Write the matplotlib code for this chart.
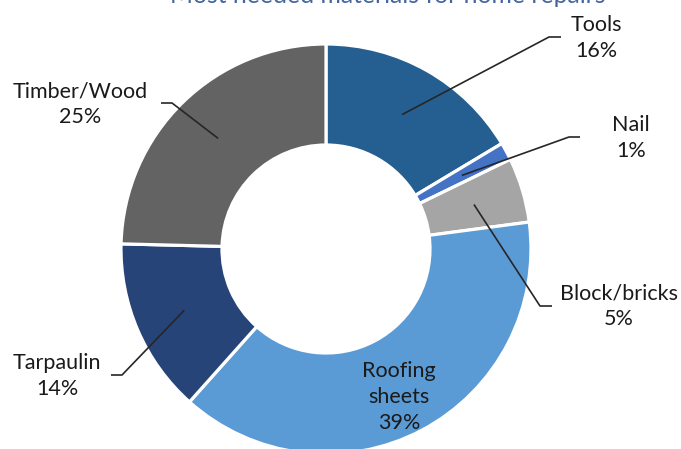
import numpy as np
import matplotlib
matplotlib.use("Agg")
from matplotlib import pyplot as plt

# data (shares in %, labels show them rounded)
labels = ["Tools", "Nail", "Block/bricks", "Roofing\nsheets", "Tarpaulin", "Timber/Wood"]
values = [16.4, 1.4, 5.1, 38.7, 13.8, 24.6]
colors = ["#255E91", "#4472C4", "#A5A5A5", "#5B9BD5", "#264478", "#636363"]
title = "Most needed materials for home repairs"

W, H = 681, 449
plt.rcParams['font.family'] = ['Lato', 'DejaVu Sans']

fig = plt.figure(figsize=(W / 100, H / 100), dpi=100)
ax = fig.add_axes([0, 0, 1, 1])

cx, cy = 326, H - 249
r_out, r_in = 205, 104

wedges, _ = ax.pie(values, colors=colors, startangle=90, counterclock=False,
                   center=(cx, cy), radius=r_out,
                   wedgeprops=dict(width=r_out - r_in, edgecolor='white', linewidth=2.3))

# pie() resets the limits, so set them afterwards
ax.set_xlim(0, W)
ax.set_ylim(0, H)
ax.set_aspect('equal')
ax.axis('off')

# label positions (pixel, from top-left) and elbow end of the leader line
label_pos = [(596, 38), (631, 138), (619, 306), (399, 397), (57, 376), (80, 104)]
elbow = [(549, 561), (569, 580), (540, 552), None, (122, 111), (172, 161)]
elbow_y = [37, 137, 306, None, 375, 103]

total = sum(values)
cum = 0
for i, v in enumerate(values):
    mid = 90 - 360 * (cum + v / 2) / total
    cum += v
    rm = (r_out + r_in) / 2
    sx = cx + rm * np.cos(np.radians(mid))
    sy = cy + rm * np.sin(np.radians(mid))
    pct = round(100 * v / total)
    tx, ty = label_pos[i]
    ax.text(tx, H - ty, f"{labels[i]}\n{pct}%", ha='center', va='center',
            fontsize=15.5, color='#1a1a1a', linespacing=1.35)
    if elbow[i] is not None:
        ex1, ex2 = elbow[i]
        ey = H - elbow_y[i]
        ax.plot([sx, ex1, ex2], [sy, ey, ey], color='#262626', lw=1.2,
                solid_capstyle='butt')

fig.text(388 / W, 1 - 3 / H, title, ha='center', va='baseline',
         fontsize=17.8, color='#44679E')

fig.savefig("out.png", dpi=100)
